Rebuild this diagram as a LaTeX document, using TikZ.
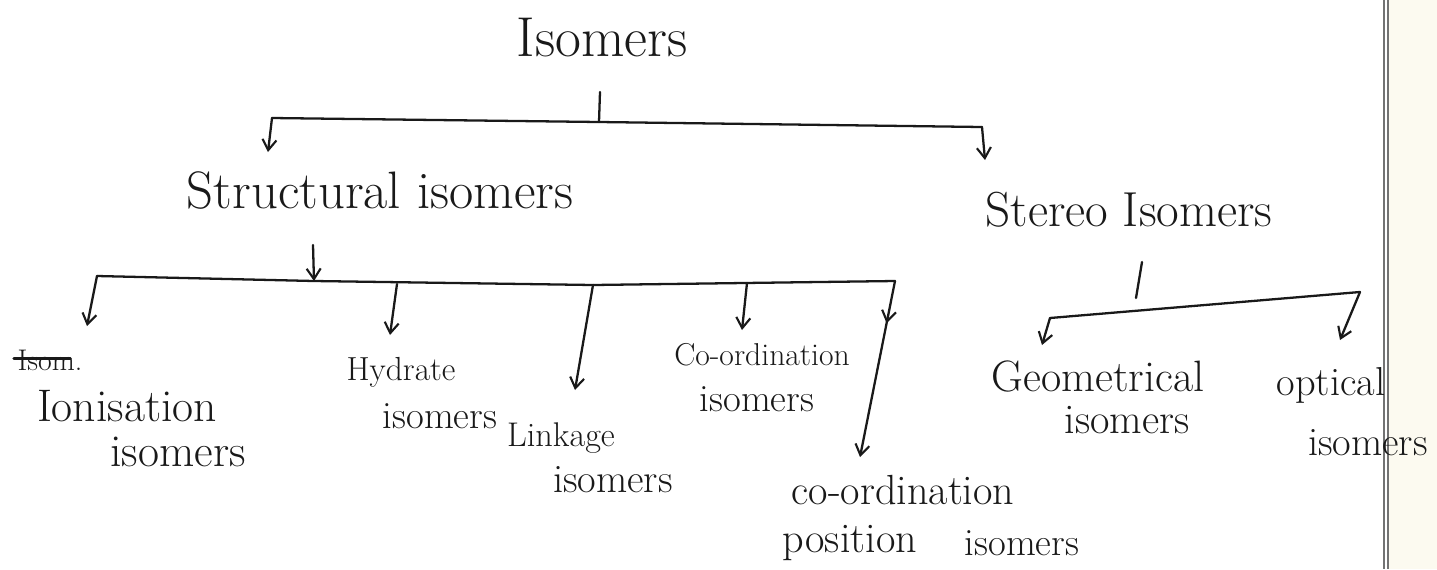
\documentclass[tikz,border=0pt]{standalone}
\usepackage{fontspec}
\usetikzlibrary{arrows.meta,decorations.markings}
\definecolor{paper}{RGB}{252,250,240}
\definecolor{ink}{RGB}{25,25,25}
\tikzset{
  hw/.style={font=\fontsize{#1}{#1}\selectfont, inner sep=0pt, anchor=center, text=ink},
  ln/.style={line width=1.3pt, line cap=round, line join=round, draw=ink},
  arr/.style={ln, -{Straight Barb[length=6pt,width=8pt,line width=1.2pt]}},
  rule/.style={draw=black!55, line width=0.6pt},
}
\begin{document}
\begin{tikzpicture}[x=0.02cm,y=-0.02cm]
\useasboundingbox (0,0) rectangle (1437,569);
\fill[white] (0,0) rectangle (1437,569);
\fill[paper] (1388,0) rectangle (1437,569);
\draw[rule] (1384,0) -- (1384,569);
\draw[rule] (1388,0) -- (1388,569);

% labels
\node[hw=32] (title) at (602,38) {Isomers};
\node[hw=30] (struct) at (380,190) {Structural isomers};
\node[hw=28] (stereo) at (1129,210) {Stereo Isomers};

\node[hw=17] (strk) at (50,360) {Isom.};
\node[hw=26] (ion1) at (127,406) {Ionisation};
\node[hw=26] (ion2) at (178,452) {isomers};
\node[hw=19] (hyd1) at (401,372) {Hydrate};
\node[hw=22] (hyd2) at (440,416) {isomers};
\node[hw=19.5] (lnk1) at (561,438) {Linkage};
\node[hw=23] (lnk2) at (613,480) {isomers};
\node[hw=18] (crd1) at (762,355) {Co-ordination};
\node[hw=22] (crd2) at (757,399) {isomers};
\node[hw=24] (pos1) at (903,490) {co-ordination};
\node[hw=24] (pos2) at (850,543) {position};
\node[hw=22] (pos3) at (1022,543) {isomers};
\node[hw=25] (geo1) at (1098,376) {Geometrical};
\node[hw=24] (geo2) at (1127,420) {isomers};
\node[hw=23] (opt1) at (1331,385) {optical};
\node[hw=23] (opt2) at (1368,443) {isomers};

% strike-through of the cancelled word
\draw[ln, line width=1.5pt] ([xshift=-2pt,yshift=1pt]strk.west) -- ([xshift=-7pt,yshift=1pt]strk.east);

% top level
\coordinate (t0) at (600,92);
\coordinate (t1) at (599,122);
\coordinate (tl) at (272,118);
\coordinate (tr) at (982,127);
\coordinate (tla) at (268,152);
\coordinate (tra) at (985,160);
\draw[ln] (t0) -- (t1);
\draw[ln] (tl) -- (t1) -- (tr);
\draw[arr] (tl) -- (tla);
\draw[arr] (tr) -- (tra);

% structural branch
\coordinate (s0) at (313,245);
\coordinate (s1) at (314,281);
\coordinate (sl) at (97,276);
\coordinate (sr) at (895,281);
\coordinate (b2) at (397,284);
\coordinate (b3) at (593,285);
\coordinate (b4) at (747,283);
\draw[arr] (s0) -- (s1);
\draw[ln] (sl) -- (s1) -- (b3) -- (sr);
\draw[arr] (sl) -- (87,326);
\draw[arr] (b2) -- (390,335);
\draw[arr] (b3) -- (575,390);
\draw[arr] (b4) -- (742,330);
\draw[arr, postaction={decorate}, decoration={markings,
   mark=at position 0.24 with {\arrow{Straight Barb[length=6pt,width=8pt,line width=1.2pt]}}}]
   (sr) -- (860,457);

% stereo branch
\coordinate (r0) at (1142,262);
\coordinate (r1) at (1136,298);
\coordinate (rl) at (1050,318);
\coordinate (rr) at (1360,292);
\draw[ln] (r0) -- (r1);
\draw[ln] (rl) -- (rr);
\draw[arr] (rl) -- (1042,345);
\draw[arr] (rr) -- (1340,340);
\end{tikzpicture}
\end{document}
